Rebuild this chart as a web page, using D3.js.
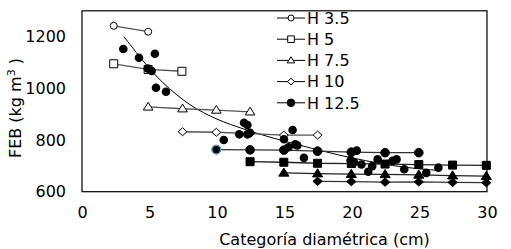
<!DOCTYPE html>
<html><head><meta charset="utf-8">
<script src="https://cdn.jsdelivr.net/npm/d3@7"></script>
<style>body{margin:0;background:#fff}svg{display:block}text{font-family:"DejaVu Sans",Verdana,sans-serif}</style>
</head><body><svg id="c" width="511" height="249"></svg>
<script>
// ---- data ----
const xTicks = [0, 5, 10, 15, 20, 25, 30];
const yTicks = [600, 800, 1000, 1200];
const legendLabels = ["H 3.5", "H 5", "H 7.5", "H 10", "H 12.5"];

const h35X = [2.35, 4.9];            const h35Y = [1242, 1219];
const h5X  = [2.35, 4.9, 7.4];       const h5Y  = [1095, 1073, 1066];
const h75X = [4.9, 7.45, 9.95, 12.45]; const h75Y = [928, 921, 916, 909];
const h10X = [7.45, 9.95, 12.45, 14.95, 17.45]; const h10Y = [832, 830, 825, 819, 819];
const h125X = [9.95, 12.45, 14.95, 17.45, 19.95, 22.45, 24.95];
const h125Y = [763, 762, 761, 757, 753, 751, 751];
const sqX = [12.45, 14.95, 17.45, 19.95, 22.45, 24.95, 27.45, 29.95];
const sqY = [716, 714, 710, 709, 707, 705, 703, 702];
const triX = [14.95, 17.45, 19.95, 22.45, 24.95, 27.45, 29.95];
const triY = [673, 670, 668, 667, 665, 662, 660];
const diaX = [17.45, 19.95, 22.45, 24.95, 27.45, 29.95];
const diaY = [640, 639, 637, 638, 636, 635];
const scatX = [3.06, 4.22, 5.4, 4.87, 5.16, 5.48, 6.22, 10.5, 11.65, 12.0, 12.25, 12.25, 12.44,
  14.96, 15.6, 15.3, 15.8, 15.95, 16.44, 20.35, 19.9, 20.15, 20.7, 21.2, 21.5, 21.9, 23.0, 23.3, 23.87, 25.5, 26.4];
const scatY = [1152, 1118, 1134, 1077, 1067, 1002, 987, 800, 822, 867, 858, 822, 828,
  803, 839, 772, 783, 779, 731, 759, 722, 714, 705, 677, 699, 725, 720, 725, 687, 673, 693];
const fitX = [3.1, 4, 5, 6, 7, 8, 9, 10, 11, 12, 13, 14, 15, 16, 17, 18, 19, 20, 21, 22, 23, 24, 25, 26, 26.5];
const fitY = [1200, 1140, 1075, 1020, 975, 935, 905, 880, 860, 842, 825, 810, 795, 782, 768, 755, 742, 731, 720, 710, 701, 694, 688, 684, 682];

// ---- chart ----
const svg = d3.select("#c");
const L = 82, R = 487, T = 10.8, B = 191.7;
const x = d3.scaleLinear().domain([0, 30]).range([L, R]);
const y = d3.scaleLinear().domain([600, 1300]).range([B, T]);
const zip = (a, b) => a.map((v, i) => [v, b[i]]);

svg.append("rect").attr("width", 511).attr("height", 249).attr("fill", "#fff");

const xa = svg.append("g").attr("transform", `translate(0,${B})`)
  .call(d3.axisBottom(x).tickValues(xTicks).tickSize(0).tickPadding(15).tickFormat(d3.format("d")));
const ya = svg.append("g").attr("transform", `translate(${L},0)`)
  .call(d3.axisLeft(y).tickValues(yTicks).tickSize(0).tickPadding(16).tickFormat(d3.format("d")));
[xa, ya].forEach(a => { a.select(".domain").remove(); a.selectAll("text").attr("font-size", 16).attr("fill", "#000").style("font-family", '"DejaVu Sans",Verdana,sans-serif'); });

svg.append("rect").attr("x", L).attr("y", T).attr("width", R - L).attr("height", B - T)
  .attr("fill", "none").attr("stroke", "#000").attr("stroke-width", 1.2);

svg.append("text").attr("x", 324.5).attr("y", 245).attr("text-anchor", "middle")
  .attr("font-size", 16).text("Categoría diamétrica (cm)");
const yt = svg.append("text").attr("transform", "translate(21,108) rotate(-90)")
  .attr("text-anchor", "middle").attr("font-size", 16);
yt.append("tspan").text("FEB (kg m");
yt.append("tspan").attr("font-size", 11).attr("dy", -6).text("3");
yt.append("tspan").attr("dy", 6).text(" )");

// marker path generators
function marker(type, s) {
  if (type === "circle") return d3.symbol(d3.symbolCircle, Math.PI * s * s)();
  if (type === "square") return `M${-s},${-s}H${s}V${s}H${-s}Z`;
  if (type === "triangle") return `M0,${-s * 1.1}L${s * 1.15},${s * 0.75}L${-s * 1.15},${s * 0.75}Z`;
  if (type === "diamond") return `M0,${-s}L${s * 1.1},0L0,${s}L${-s * 1.1},0Z`;
}

const line = d3.line().x(d => x(d[0])).y(d => y(d[1]));
function series(xs, ys, type, size, filled, lineColor) {
  const pts = zip(xs, ys);
  svg.append("path").datum(pts).attr("d", line).attr("fill", "none")
    .attr("stroke", lineColor).attr("stroke-width", 1.3);
  svg.append("g").selectAll("path").data(pts).join("path")
    .attr("transform", d => `translate(${x(d[0])},${y(d[1])})`)
    .attr("d", marker(type, size))
    .attr("fill", filled ? "#000" : "#fff").attr("stroke", "#000").attr("stroke-width", 1);
}

// fitted curve
svg.append("path").datum(zip(fitX, fitY))
  .attr("d", d3.line().x(d => x(d[0])).y(d => y(d[1])).curve(d3.curveBasis))
  .attr("fill", "none").attr("stroke", "#000").attr("stroke-width", 1);

series(h35X, h35Y, "circle", 3.5, false, "#555");
series(h5X, h5Y, "square", 4, false, "#555");
series(h75X, h75Y, "triangle", 4.2, false, "#555");
series(h10X, h10Y, "diamond", 4, false, "#555");
series(diaX, diaY, "diamond", 4.2, true, "#333");
series(triX, triY, "triangle", 4.4, true, "#222");
series(sqX, sqY, "square", 4, true, "#222");
series(h125X, h125Y, "circle", 4.3, true, "#333");
// highlighted first point
svg.append("circle").attr("cx", x(h125X[0])).attr("cy", y(h125Y[0])).attr("r", 4.3)
  .attr("fill", "#000").attr("stroke", "#4aa3c9").attr("stroke-width", 1.2);

svg.append("g").selectAll("circle").data(zip(scatX, scatY)).join("circle")
  .attr("cx", d => x(d[0])).attr("cy", d => y(d[1])).attr("r", 4.3).attr("fill", "#000");

// legend
const types = ["circle", "square", "triangle", "diamond", "circle"];
const sizes = [3, 3.3, 3.3, 3.3, 3.8];
const lg = svg.append("g");
legendLabels.forEach((lab, i) => {
  const cy = 18 + i * 21.2;
  lg.append("line").attr("x1", 277).attr("x2", 305).attr("y1", cy).attr("y2", cy)
    .attr("stroke", "#000").attr("stroke-width", 1);
  lg.append("path").attr("transform", `translate(291,${cy})`).attr("d", marker(types[i], sizes[i]))
    .attr("fill", i === 4 ? "#000" : "#fff").attr("stroke", "#000").attr("stroke-width", 1);
  lg.append("text").attr("x", 307).attr("y", cy).attr("dy", "0.36em").attr("font-size", 16).text(lab);
});
</script></body></html>
